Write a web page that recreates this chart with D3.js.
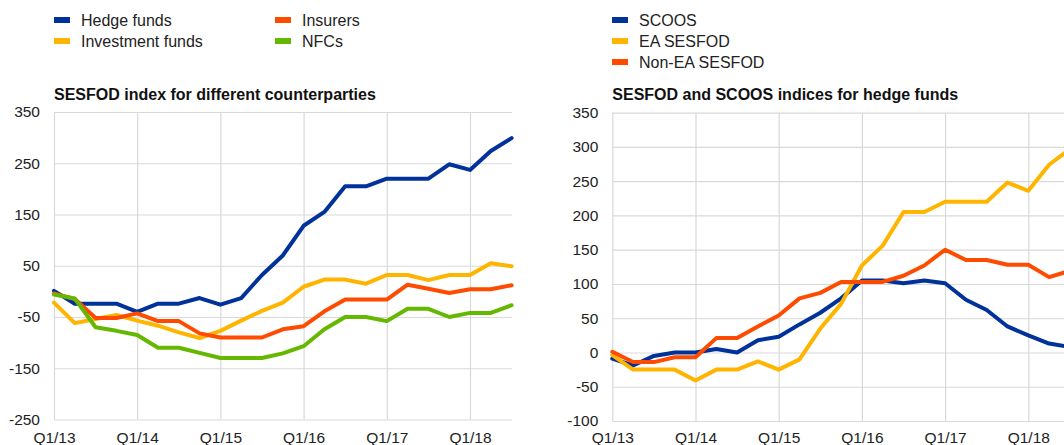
<!DOCTYPE html>
<html>
<head>
<meta charset="utf-8">
<script src="https://cdn.jsdelivr.net/npm/d3@7"></script>
<style>
  body { margin: 0; background: #fff; }
  svg { display: block; font-family: Arial, "Liberation Sans", sans-serif; }
</style>
</head>
<body>
<svg id="chart" width="1064" height="445"></svg>
<script>
// quarters Q1/13 .. Q3/18
const quarters = ['Q1/13','Q2/13','Q3/13','Q4/13','Q1/14','Q2/14','Q3/14','Q4/14',
  'Q1/15','Q2/15','Q3/15','Q4/15','Q1/16','Q2/16','Q3/16','Q4/16',
  'Q1/17','Q2/17','Q3/17','Q4/17','Q1/18','Q2/18','Q3/18'];
const xTickLabels = ['Q1/13','Q1/14','Q1/15','Q1/16','Q1/17','Q1/18'];

// left panel: SESFOD index for different counterparties
const hedgeFunds = [1, -24, -24, -24, -40, -24, -24, -13, -26, -13, 32, 70, 128, 155, 205, 205, 220, 220, 220, 248, 237, 274, 299];
const investmentFunds = [-22, -62, -54, -46, -57, -67, -80, -91, -77, -57, -38, -22, 9, 23, 23, 15, 32, 32, 22, 32, 32, 55, 49];
const insurers = [-4, -15, -52, -52, -43, -58, -58, -82, -90, -90, -90, -74, -68, -39, -16, -16, -16, 13, 5, -3, 4, 4, 12];
const nfcs = [-6, -14, -70, -77, -85, -110, -110, -120, -130, -130, -130, -121, -107, -74, -50, -50, -58, -34, -34, -50, -42, -42, -27];
const leftTicks = [350, 250, 150, 50, -50, -150, -250];

// right panel: SESFOD and SCOOS indices for hedge funds
const scoos = [-9, -19, -5, 0, 0, 5, 0, 18, 23, 41, 58, 79, 105, 105, 101, 105, 101, 77, 62, 38, 25, 13, 8];
const eaSesfod = [-4, -25, -25, -25, -41, -25, -25, -13, -25, -10, 35, 71, 127, 156, 205, 205, 220, 220, 220, 248, 236, 274, 297];
const nonEaSesfod = [1, -14, -14, -7, -7, 21, 21, 38, 54, 79, 87, 103, 103, 103, 112, 127, 150, 135, 135, 128, 128, 110, 119];
const rightTicks = [350, 300, 250, 200, 150, 100, 50, 0, -50, -100];

const blue = '#003299', yellow = '#ffb400', orange = '#ff4b00', green = '#65b800';

const svg = d3.select('#chart');

function panel(opts) {
  const g = svg.append('g');
  const x = d3.scaleLinear().domain([0, quarters.length - 1]).range([opts.left, opts.left + 22 * 20.8]);
  const y = d3.scaleLinear().domain(opts.domain).range([opts.bottom, opts.top]);

  // horizontal grid + y labels (plain hyphen for negatives)
  const yAxis = g.append('g')
    .attr('transform', `translate(${opts.left},0)`)
    .call(d3.axisLeft(y).tickValues(opts.ticks).tickSize(-(opts.gridRight - opts.left)).tickPadding(14).tickFormat(d => String(d)));
  yAxis.select('.domain').remove();
  yAxis.selectAll('line').attr('stroke', '#d9d9d9').attr('stroke-width', 1.2);
  yAxis.selectAll('text').attr('font-size', 15.5).attr('fill', '#222');

  // vertical grid + x labels
  const idx = xTickLabels.map(l => quarters.indexOf(l));
  const xAxis = g.append('g')
    .attr('transform', `translate(0,${opts.bottom})`)
    .call(d3.axisBottom(x).tickValues(idx).tickSize(-(opts.bottom - opts.top)).tickPadding(opts.xPad)
      .tickFormat(i => quarters[i]));
  xAxis.select('.domain').remove();
  xAxis.selectAll('line').attr('stroke', '#d9d9d9').attr('stroke-width', 1.2);
  xAxis.selectAll('text').attr('font-size', 15.5).attr('fill', '#222');

  // title
  g.append('text').attr('x', opts.left).attr('y', 100)
    .attr('font-size', 16).attr('font-weight', 'bold').attr('fill', '#111')
    .text(opts.title);

  const line = d3.line().x((d, i) => x(i)).y(d => y(d));
  opts.series.forEach(s => {
    g.append('path').datum(s.values)
      .attr('d', line)
      .attr('fill', 'none')
      .attr('stroke', s.color)
      .attr('stroke-width', 4)
      .attr('stroke-linejoin', 'round')
      .attr('stroke-linecap', 'round');
  });

  // legend
  opts.legend.forEach(item => {
    g.append('rect').attr('x', item.x).attr('y', item.y - 3).attr('width', 16).attr('height', 6).attr('fill', item.color);
    g.append('text').attr('x', item.x + 27).attr('y', item.y).attr('dy', '0.36em')
      .attr('font-size', 16).attr('fill', '#222').text(item.name);
  });
}

panel({
  left: 54, top: 112, bottom: 419.5, gridRight: 512, xPad: 12.2,
  domain: [-250, 350], ticks: leftTicks,
  title: 'SESFOD index for different counterparties',
  series: [
    { values: hedgeFunds, color: blue },
    { values: investmentFunds, color: yellow },
    { values: insurers, color: orange },
    { values: nfcs, color: green }
  ],
  legend: [
    { name: 'Hedge funds', color: blue, x: 54, y: 20 },
    { name: 'Investment funds', color: yellow, x: 54, y: 41 },
    { name: 'Insurers', color: orange, x: 275, y: 20 },
    { name: 'NFCs', color: green, x: 275, y: 41 }
  ]
});

panel({
  left: 612.3, top: 112.7, bottom: 421, gridRight: 1070, xPad: 10.7,
  domain: [-100, 350], ticks: rightTicks,
  title: 'SESFOD and SCOOS indices for hedge funds',
  series: [
    { values: scoos, color: blue },
    { values: eaSesfod, color: yellow },
    { values: nonEaSesfod, color: orange }
  ],
  legend: [
    { name: 'SCOOS', color: blue, x: 612, y: 20 },
    { name: 'EA SESFOD', color: yellow, x: 612, y: 41 },
    { name: 'Non-EA SESFOD', color: orange, x: 612, y: 62 }
  ]
});
</script>
</body>
</html>
